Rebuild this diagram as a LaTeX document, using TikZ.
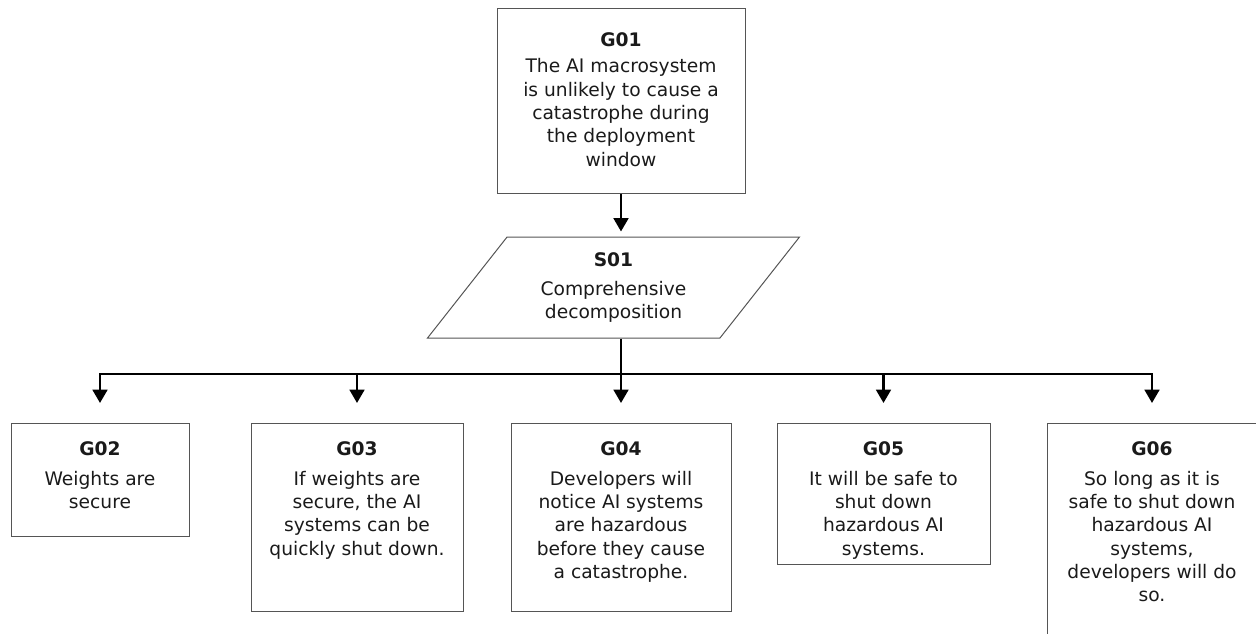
\documentclass[tikz,border=0pt]{standalone}
\usepackage{fontspec}
\setmainfont{DejaVu Sans}
\usetikzlibrary{positioning,arrows.meta,shapes.geometric}

\definecolor{boxline}{HTML}{555555}
\definecolor{ink}{HTML}{1A1A1A}

\begin{document}
\begin{tikzpicture}[x=0.75pt, y=-0.75pt, >={Triangle[length=10pt,width=11pt]},
  font=\fontsize{14}{17.5}\selectfont, text=ink,
  goalbox/.style={draw=boxline, line width=0.75pt, anchor=north, inner sep=0pt},
  goaltext/.style={align=center, inner sep=0pt},
  link/.style={->, line width=2pt}]
  \clip (0,0) rectangle (1256,633);

  % top goal and strategy
  \node[goalbox, minimum width=186pt, minimum height=138.75pt] (g01) at (621,8) {};
  \node[goaltext, below=18.5pt of g01.north] (g01t)
    {\textbf{G01}\\[2pt] The AI macrosystem\\ is unlikely to cause a\\ catastrophe during\\ the deployment\\ window};
  \node[trapezium, trapezium left angle=52, trapezium right angle=128, trapezium stretches=true,
    draw=boxline, line width=0.75pt, minimum width=279.75pt, minimum height=75.75pt,
    align=center, inner sep=0pt] (s01) at (613.5,287.5)
    {\textbf{S01}\\[4pt] Comprehensive\\ decomposition};

  % sub-goals
  \node[goalbox, minimum width=133.5pt, minimum height=84.75pt] (g02) at (100,423) {};
  \node[goaltext, below=13.5pt of g02.north] (g02t) {\textbf{G02}\\[5pt] Weights are\\ secure};
  \node[goalbox, minimum width=159pt, minimum height=141pt] (g03) at (357,423) {};
  \node[goaltext, below=13.5pt of g03.north] (g03t)
    {\textbf{G03}\\[5pt] If weights are\\ secure, the AI\\ systems can be\\ quickly shut down.};
  \node[goalbox, minimum width=165pt, minimum height=141pt] (g04) at (621,423) {};
  \node[goaltext, below=13.5pt of g04.north] (g04t)
    {\textbf{G04}\\[5pt] Developers will\\ notice AI systems\\ are hazardous\\ before they cause\\ a catastrophe.};
  \node[goalbox, minimum width=159.75pt, minimum height=105.75pt] (g05) at (883.5,423) {};
  \node[goaltext, below=13.5pt of g05.north] (g05t)
    {\textbf{G05}\\[5pt] It will be safe to\\ shut down\\ hazardous AI\\ systems.};
  \node[goalbox, minimum width=157.5pt, minimum height=195pt] (g06) at (1152,423) {};
  \node[goaltext, below=13.5pt of g06.north] (g06t)
    {\textbf{G06}\\[5pt] So long as it is\\ safe to shut down\\ hazardous AI\\ systems,\\ developers will do\\ so.};

  % connectors
  \coordinate (split) at (621,374);
  \draw[link, shorten >=3.75pt] (g01.south) -- (g01.south |- s01.north);
  \draw[line width=2pt] (g01.south |- s01.south) -- (split);
  \foreach \g in {g02,g03,g04,g05,g06}
    \draw[link, shorten >=15pt] (split) -| (\g.north);
\end{tikzpicture}
\end{document}
